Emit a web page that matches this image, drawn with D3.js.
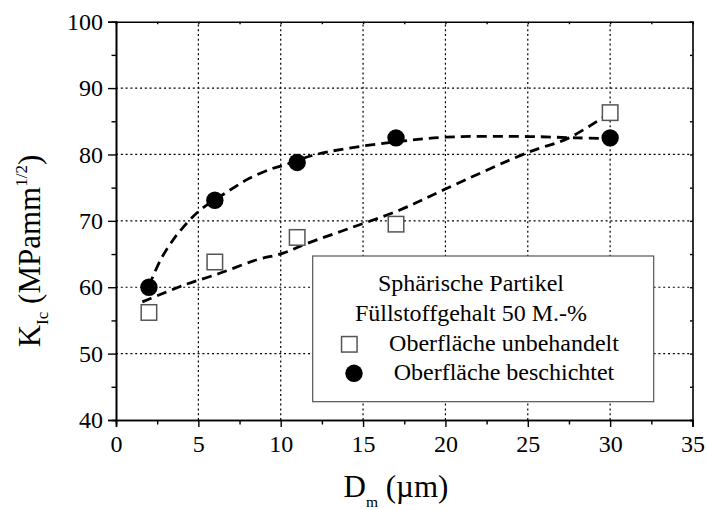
<!DOCTYPE html>
<html>
<head>
<meta charset="utf-8">
<script src="https://cdn.jsdelivr.net/npm/d3@7"></script>
<style>
  html, body { margin: 0; padding: 0; background: #fff; }
  svg, svg text { font-family: "Liberation Serif", "Times New Roman", serif !important; }
</style>
</head>
<body>
<svg id="chart" width="707" height="510"></svg>
<script>
// Particle diameter D_m (µm)
const diameters = [2, 6, 11, 17, 30];
// Fracture toughness K_Ic, untreated particle surface
const kUntreated = [56.2, 63.8, 67.5, 69.5, 86.3];
// Fracture toughness K_Ic, coated particle surface
const kCoated = [60.0, 73.1, 78.8, 82.5, 82.5];

// Trend curves (dashed), sampled along the drawn fits
const trendUntreatedX = [1.6, 2.1, 4.1, 6.3, 8.5, 10.1, 11.6, 14.2, 17.2, 20, 25, 27.5, 30];
const trendUntreatedY = [57.8, 58.3, 60.3, 62.1, 64.1, 65.1, 66.6, 68.9, 71.6, 74.8, 80.3, 82.5, 86.3];
const trendCoatedX = [2, 2.7, 3.4, 4.1, 5.1, 6.9, 8.1, 9.4, 10.1, 12, 14, 17, 20, 25, 28, 30];
const trendCoatedY = [60.2, 64.1, 66.9, 69.1, 71.6, 74.6, 76.4, 77.8, 78.3, 79.9, 80.9, 81.9, 82.6, 82.7, 82.5, 82.4];

// Axis ticks
const xMajorTicks = [0, 5, 10, 15, 20, 25, 30, 35];
const xMinorTicks = [2.5, 7.5, 12.5, 17.5, 22.5, 27.5, 32.5];
const yMajorTicks = [40, 50, 60, 70, 80, 90, 100];
const yMinorTicks = [45, 55, 65, 75, 85, 95];

// Legend texts
const legendTitle = ["Sphärische Partikel", "Füllstoffgehalt 50 M.-%"];
const legendLabels = ["Oberfläche unbehandelt", "Oberfläche beschichtet"];

const serif = "'Liberation Serif', 'Times New Roman', serif";
const svg = d3.select("#chart");
const plot = { left: 116, right: 692.5, top: 21.7, bottom: 420 };

const x = d3.scaleLinear().domain([0, 35]).range([plot.left, plot.right]);
const y = d3.scaleLinear().domain([40, 100]).range([plot.bottom, plot.top]);

// Dotted grid at the major ticks
const grid = svg.append("g").attr("stroke", "#000").attr("stroke-width", 1.2)
  .attr("stroke-dasharray", "2,2.8");
grid.selectAll("line.gx").data(xMajorTicks.filter(d => d > 0 && d < 35)).join("line")
  .attr("x1", d => x(d)).attr("x2", d => x(d))
  .attr("y1", plot.bottom).attr("y2", plot.top);
grid.selectAll("line.gy").data(yMajorTicks.filter(d => d > 40 && d < 100)).join("line")
  .attr("x1", plot.left).attr("x2", plot.right)
  .attr("y1", d => y(d)).attr("y2", d => y(d));

// Bottom axis: outward major and minor ticks
const fontSize = 24;
svg.append("g").attr("transform", `translate(0,${plot.bottom})`)
  .call(d3.axisBottom(x).tickValues(xMajorTicks).tickSize(7).tickPadding(8).tickFormat(d3.format("d")));
svg.append("g").attr("transform", `translate(0,${plot.bottom})`)
  .call(d3.axisBottom(x).tickValues(xMinorTicks).tickSize(4.5).tickFormat(""));

// Left axis
svg.append("g").attr("transform", `translate(${plot.left},0)`)
  .call(d3.axisLeft(y).tickValues(yMajorTicks).tickSize(8).tickPadding(5).tickFormat(d3.format("d")));
svg.append("g").attr("transform", `translate(${plot.left},0)`)
  .call(d3.axisLeft(y).tickValues(yMinorTicks).tickSize(4.5).tickFormat(""));

// Top and right mirrored axes with small inward ticks
svg.append("g").attr("transform", `translate(0,${plot.top})`)
  .call(d3.axisBottom(x).tickValues(xMinorTicks.concat(xMajorTicks)).tickSize(2.5).tickFormat(""));
svg.append("g").attr("transform", `translate(${plot.right},0)`)
  .call(d3.axisLeft(y).tickValues(yMinorTicks.concat(yMajorTicks)).tickSize(2.5).tickFormat(""));

svg.selectAll(".domain").attr("stroke", "#000").attr("stroke-width", 1.6);
svg.selectAll(".tick line").attr("stroke", "#000").attr("stroke-width", 1.4);
svg.selectAll("g").attr("font-family", serif);
svg.selectAll(".tick text").style("font-family", serif)
  .attr("font-size", fontSize).attr("fill", "#000");

// Legend box (drawn under the curves so its white fill hides the grid)
const legendBox = { x0: 312.7, y0: 256, x1: 653.7, y1: 401.7 };
svg.append("rect")
  .attr("x", legendBox.x0).attr("y", legendBox.y0)
  .attr("width", legendBox.x1 - legendBox.x0).attr("height", legendBox.y1 - legendBox.y0)
  .attr("fill", "#fff").attr("stroke", "#555").attr("stroke-width", 1.2);

// Dashed trend curves
const line = d3.line().x(d => x(d[0])).y(d => y(d[1])).curve(d3.curveCatmullRom.alpha(0.5));
const dashStyle = sel => sel.attr("fill", "none").attr("stroke", "#000")
  .attr("stroke-width", 2.8).attr("stroke-dasharray", "10,6");
svg.append("path").datum(d3.zip(trendUntreatedX, trendUntreatedY)).attr("d", line).call(dashStyle);
svg.append("path").datum(d3.zip(trendCoatedX, trendCoatedY)).attr("d", line).call(dashStyle);

// Data markers
const sq = 15.5;
svg.append("g").selectAll("rect").data(d3.zip(diameters, kUntreated)).join("rect")
  .attr("x", d => x(d[0]) - sq / 2).attr("y", d => y(d[1]) - sq / 2)
  .attr("width", sq).attr("height", sq)
  .attr("fill", "#fff").attr("stroke", "#555").attr("stroke-width", 1.5);
svg.append("g").selectAll("circle").data(d3.zip(diameters, kCoated)).join("circle")
  .attr("cx", d => x(d[0])).attr("cy", d => y(d[1])).attr("r", 8.7)
  .attr("fill", "#000");

// Legend content
const lg = svg.append("g").attr("font-size", fontSize).attr("fill", "#000").style("font-family", serif);
lg.selectAll("text.title").data(legendTitle).join("text")
  .attr("x", 471).attr("y", (d, i) => 290.5 + i * 30.5)
  .attr("text-anchor", "middle").text(d => d);
lg.selectAll("text.label").data(legendLabels).join("text")
  .attr("x", 504).attr("y", (d, i) => 350.7 + i * 29.5)
  .attr("text-anchor", "middle").text(d => d);
lg.append("rect").attr("x", 349.3 - sq / 2).attr("y", 344.3 - sq / 2)
  .attr("width", sq).attr("height", sq)
  .attr("fill", "#fff").attr("stroke", "#555").attr("stroke-width", 1.5);
lg.append("circle").attr("cx", 354).attr("cy", 373.3).attr("r", 8.7).attr("fill", "#000");

// Axis titles
const titleSize = 31;
const xt = svg.append("text").attr("x", 396).attr("y", 497)
  .attr("text-anchor", "middle").attr("font-size", titleSize).style("font-family", serif);
xt.append("tspan").text("D");
xt.append("tspan").attr("font-size", titleSize * 0.5).attr("dy", 10).text("m");
xt.append("tspan").attr("dy", -10).text("  (µm)");

const yt = svg.append("text").attr("transform", "translate(40,251) rotate(-90)")
  .attr("text-anchor", "middle").attr("font-size", titleSize).style("font-family", serif);
yt.append("tspan").text("K");
yt.append("tspan").attr("font-size", titleSize * 0.55).attr("dy", 8).text("Ic");
yt.append("tspan").attr("dy", -8).text(" (MPamm");
yt.append("tspan").attr("font-size", titleSize * 0.55).attr("dy", -13).text("1/2");
yt.append("tspan").attr("dy", 13).text(")");
</script>
</body>
</html>
